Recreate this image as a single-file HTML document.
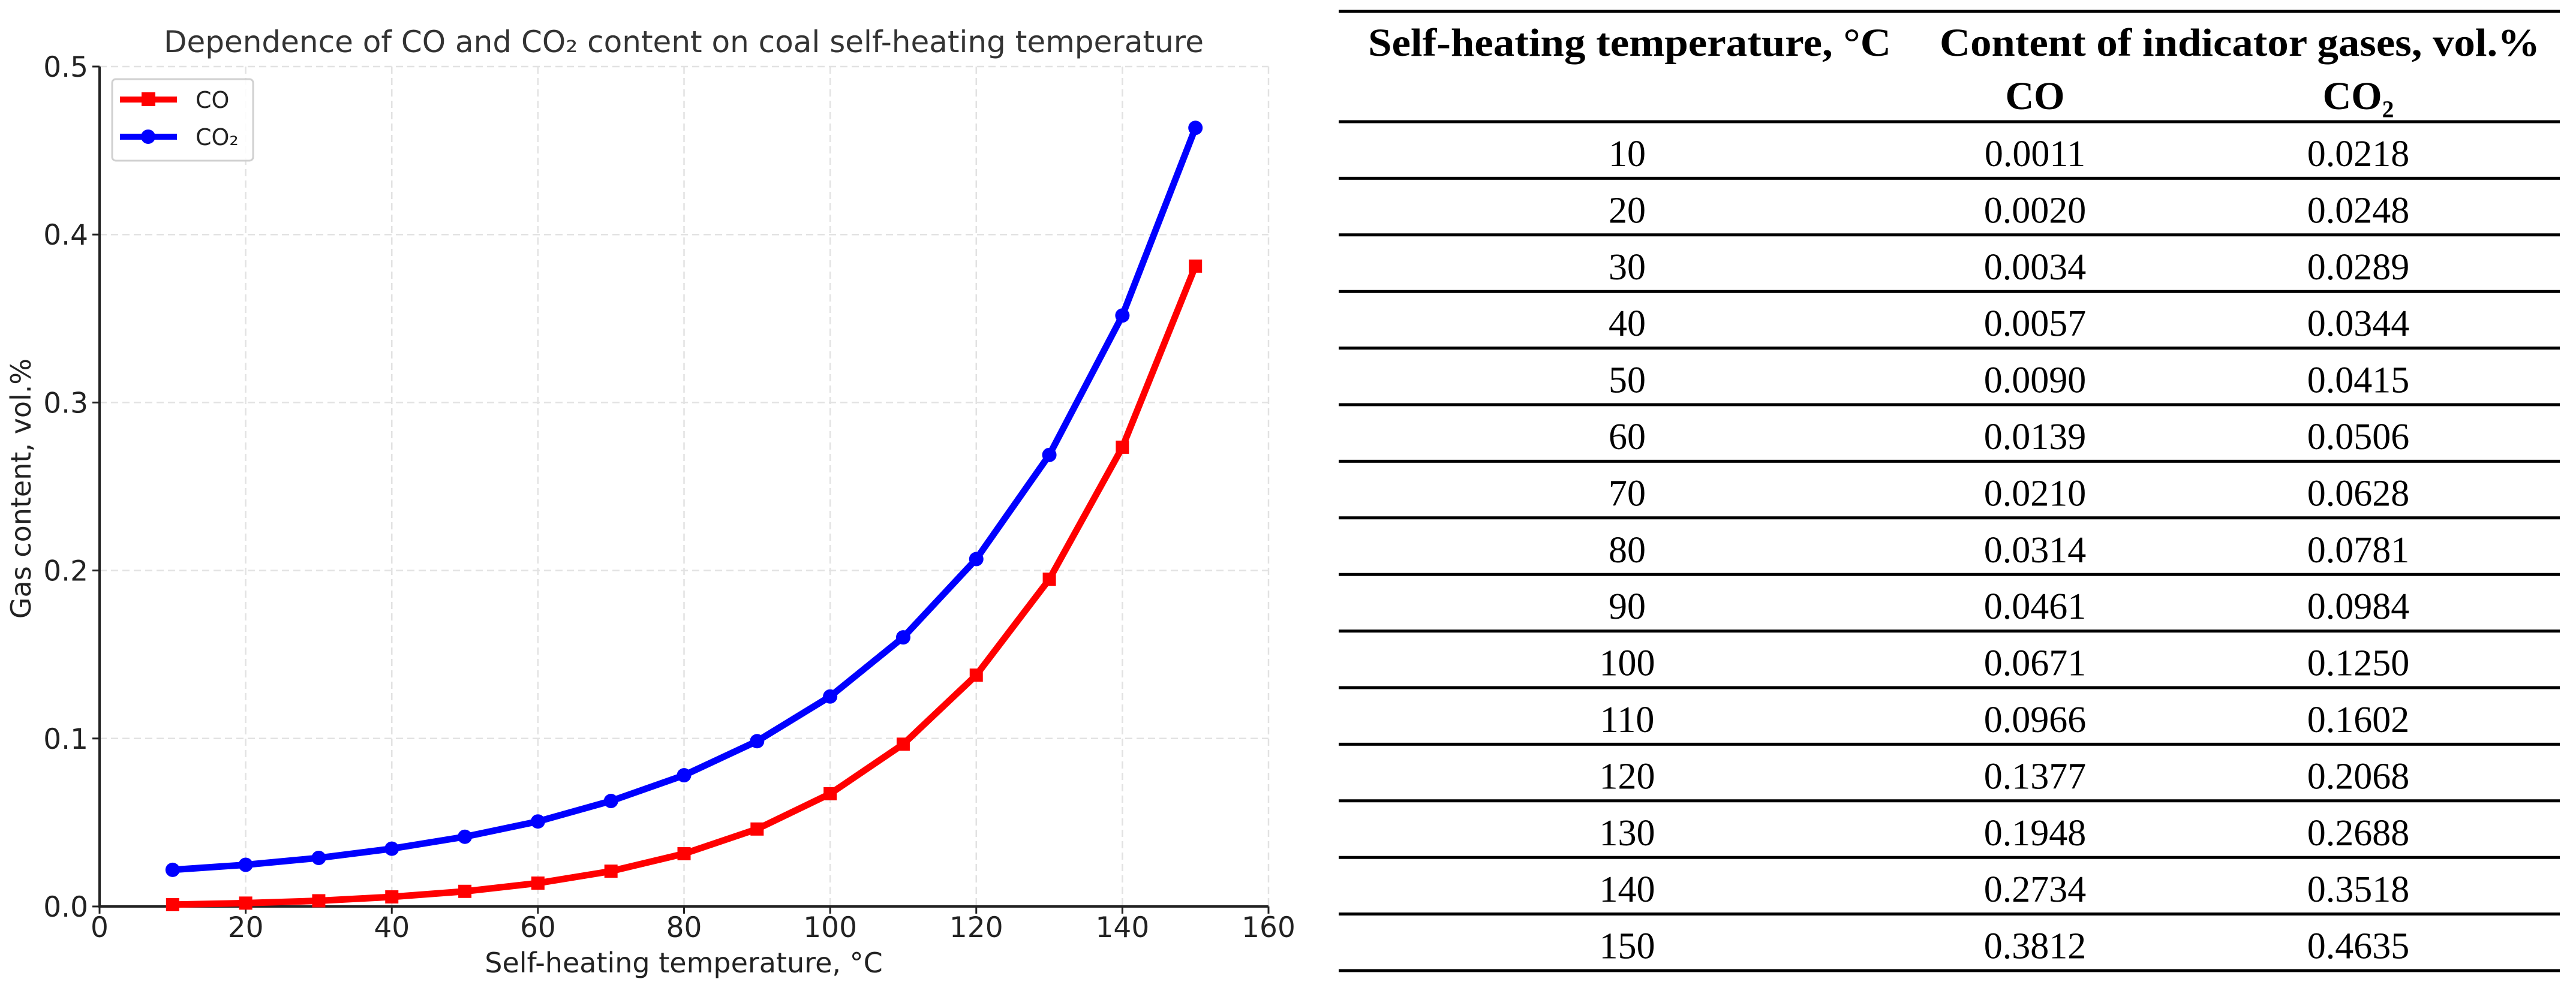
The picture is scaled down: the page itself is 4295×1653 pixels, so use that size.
<!DOCTYPE html>
<html><head><meta charset="utf-8"><style>
html,body{margin:0;padding:0;background:#fff;}
svg{display:block;}
</style></head><body>
<svg id="root" width="4295" height="1653" viewBox="0 0 4295 1653" xmlns="http://www.w3.org/2000/svg">
<g id="chart"></g>
<g id="table"></g>
</svg>
<script>
const temps = [10,20,30,40,50,60,70,80,90,100,110,120,130,140,150];
const coValues = [0.0011,0.0020,0.0034,0.0057,0.0090,0.0139,0.0210,0.0314,0.0461,0.0671,0.0966,0.1377,0.1948,0.2734,0.3812];
const co2Values = [0.0218,0.0248,0.0289,0.0344,0.0415,0.0506,0.0628,0.0781,0.0984,0.1250,0.1602,0.2068,0.2688,0.3518,0.4635];
const coLabels = ["0.0011","0.0020","0.0034","0.0057","0.0090","0.0139","0.0210","0.0314","0.0461","0.0671","0.0966","0.1377","0.1948","0.2734","0.3812"];
const co2Labels = ["0.0218","0.0248","0.0289","0.0344","0.0415","0.0506","0.0628","0.0781","0.0984","0.1250","0.1602","0.2068","0.2688","0.3518","0.4635"];
const xTicks = [0,20,40,60,80,100,120,140,160];
const yTicks = [0,0.1,0.2,0.3,0.4,0.5];
const yTickLabels = ["0.0","0.1","0.2","0.3","0.4","0.5"];

const NS = "http://www.w3.org/2000/svg";
const L=166,R=2115,T=111,B=1512;
const xMin=0,xMax=160,yMin=0,yMax=0.5;
function sx(v){return L+(v-xMin)/(xMax-xMin)*(R-L);}
function sy(v){return B-(v-yMin)/(yMax-yMin)*(B-T);}
function mk(tag,attrs,parent,text){const e=document.createElementNS(NS,tag);for(const k in attrs)e.setAttribute(k,attrs[k]);if(text!==undefined)e.textContent=text;parent.appendChild(e);return e;}
const chart=document.getElementById('chart');
const SANS='"DejaVu Sans","Liberation Sans",sans-serif';

// grid
xTicks.forEach((t,i)=>{
  if(t>xMin&&t<=xMax){const g=mk('line',{x1:sx(t),x2:sx(t),y1:T,y2:B,stroke:'#e2e2e2','stroke-width':2.5,'stroke-dasharray':'12,7'},chart);
  
  }
});
yTicks.forEach((t,i)=>{
  if(t>yMin){const g=mk('line',{x1:L,x2:R,y1:sy(t),y2:sy(t),stroke:'#e2e2e2','stroke-width':2.5,'stroke-dasharray':'12,7'},chart);
  
  }
});
// axes
const ax=mk('line',{x1:L,x2:R,y1:B,y2:B,stroke:'#222','stroke-width':4},chart);


const ay=mk('line',{x1:L,x2:L,y1:T,y2:B+2,stroke:'#222','stroke-width':4},chart);


// ticks
xTicks.forEach((t)=>{
  const tk=mk('line',{x1:sx(t),x2:sx(t),y1:B,y2:B+12,stroke:'#222','stroke-width':3},chart);
  
  
  const lb=mk('text',{x:sx(t),y:1563,'text-anchor':'middle','font-family':SANS,'font-size':47,fill:'#222'},chart,String(t));
  
  
});
yTicks.forEach((t,i)=>{
  const tk=mk('line',{x1:L-12,x2:L,y1:sy(t),y2:sy(t),stroke:'#222','stroke-width':3},chart);
  
  
  const lb=mk('text',{x:147,y:sy(t)+17,'text-anchor':'end','font-family':SANS,'font-size':47,fill:'#222'},chart,yTickLabels[i]);
  
  
});
// titles
const tt=mk('text',{x:1140,y:87,'text-anchor':'middle','font-family':SANS,'font-size':50,fill:'#333'},chart,'Dependence of CO and CO\u2082 content on coal self-heating temperature');


const xt=mk('text',{x:1140,y:1622,'text-anchor':'middle','font-family':SANS,'font-size':46,fill:'#222'},chart,'Self-heating temperature, \u00B0C');


const yt=mk('text',{x:0,y:0,'text-anchor':'middle','font-family':SANS,'font-size':46,fill:'#222',transform:'translate(51,815) rotate(-90)'},chart,'Gas content, vol.%');



// series
function series(vals,color,shape,name){
  const g=mk('g',{},chart);
  
  
  const pts=temps.map((t,i)=>sx(t)+','+sy(vals[i])).join(' ');
  const pl=mk('polyline',{points:pts,fill:'none',stroke:color,'stroke-width':11,'stroke-linejoin':'round'},g);
  
  
  temps.forEach((t,i)=>{
    let m;
    if(shape==='square') m=mk('rect',{x:sx(t)-11,y:sy(vals[i])-11,width:22,height:22,fill:color},g);
    else m=mk('circle',{cx:sx(t),cy:sy(vals[i]),r:12,fill:color},g);
    
    
  });
}
series(coValues,'#ff0000','square','co');
series(co2Values,'#0000ff','circle','co2');

// legend
const lg=mk('g',{},chart);


const lbx=mk('rect',{x:187,y:132,width:235,height:136,rx:6,fill:'#fff','fill-opacity':0.85,stroke:'#d0d0d0','stroke-width':3},lg);


const le1=mk('g',{},lg);


mk('line',{x1:200,x2:295,y1:166,y2:166,stroke:'#ff0000','stroke-width':10},le1);
mk('rect',{x:236,y:154,width:23,height:23,fill:'#ff0000'},le1);
mk('text',{x:326,y:180,'font-family':SANS,'font-size':38,fill:'#222'},le1,'CO');
const le2=mk('g',{},lg);


mk('line',{x1:200,x2:295,y1:228,y2:228,stroke:'#0000ff','stroke-width':10},le2);
mk('circle',{cx:247,cy:228,r:12,fill:'#0000ff'},le2);
mk('text',{x:326,y:242,'font-family':SANS,'font-size':38,fill:'#222'},le2,'CO\u2082');

// table
const tb=document.getElementById('table');
const SERIF='"Liberation Serif",serif';
const TL=2232,TR=4268;
function hline(y,name){const l=mk('line',{x1:TL,x2:TR,y1:y,y2:y,stroke:'#000','stroke-width':5},tb);
  
  }
hline(19,'table-top-rule');
hline(203,'table-header-rule');
const h1=mk('text',{x:2281,y:93,'font-family':SERIF,'font-size':66,'font-weight':'bold',textLength:872,lengthAdjust:'spacingAndGlyphs'},tb,'Self-heating temperature, \u00B0C');


const h2=mk('text',{x:3234,y:93,'font-family':SERIF,'font-size':66,'font-weight':'bold',textLength:1001,lengthAdjust:'spacingAndGlyphs'},tb,'Content of indicator gases, vol.%');


const h3=mk('text',{x:3393,y:182,'text-anchor':'middle','font-family':SERIF,'font-size':66,'font-weight':'bold'},tb,'CO');


const h4=mk('text',{x:3932,y:182,'text-anchor':'middle','font-family':SERIF,'font-size':66,'font-weight':'bold'},tb,'CO\u2082');


const RH=94.4;
temps.forEach((t,i)=>{
  const by=203+RH*i+74;
  const r=mk('g',{},tb);
  
  
  mk('text',{x:2713,y:by,'text-anchor':'middle','font-family':SERIF,'font-size':62},r,String(t));
  mk('text',{x:3393,y:by,'text-anchor':'middle','font-family':SERIF,'font-size':62},r,coLabels[i]);
  mk('text',{x:3932,y:by,'text-anchor':'middle','font-family':SERIF,'font-size':62},r,co2Labels[i]);
  hline(203+RH*(i+1),'row-rule');
});
</script>
</body></html>
